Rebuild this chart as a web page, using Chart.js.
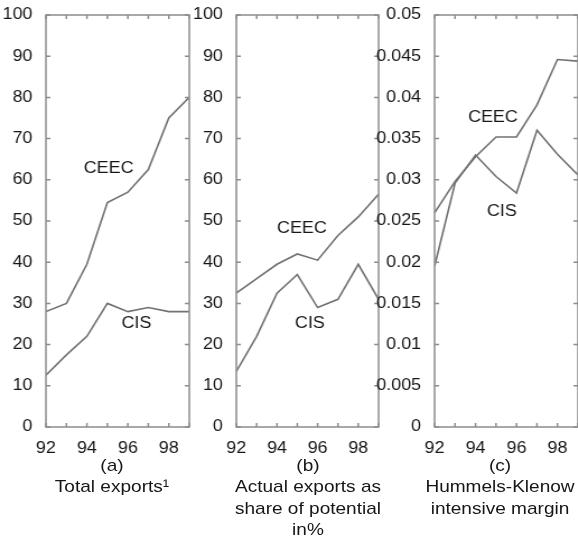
<!DOCTYPE html>
<html>
<head>
<meta charset="utf-8">
<script src="https://cdn.jsdelivr.net/npm/chart.js@4.4.1/dist/chart.umd.min.js"></script>
<style>
  html, body { margin: 0; padding: 0; background: #fff; overflow: hidden; width: 578px; height: 538px; }
  #wrap { position: absolute; left: 0; top: 0; width: 516px; height: 538px; transform: scaleX(1.12); transform-origin: 0 0; }
  #wrap canvas { position: absolute; top: 0; }
  .cap { position: absolute; width: 200px; font-family: "Liberation Sans", Arial, sans-serif; font-size: 17px;
         line-height: 21.3px; color: #161616; text-align: center; white-space: nowrap; }
</style>
</head>
<body>
<div id="wrap"></div>
<script>
// data
const years = [92, 93, 94, 95, 96, 97, 98, 99];
const yearLabels = [92, 94, 96, 98];

const ceecTotal = [28, 30, 39.5, 54.5, 57, 62.5, 75, 80];
const cisTotal = [12.6, 17.5, 22, 30, 28, 29, 28, 28];

const ceecShare = [32.5, 36, 39.5, 42, 40.5, 46.5, 51, 56.5];
const cisShare = [13.5, 22, 32.5, 37, 29, 31, 39.5, 31];

const ceecMargin = [0.026, 0.0298, 0.0328, 0.0352, 0.0352, 0.0391, 0.0446, 0.0444];
const cisMargin = [0.0195, 0.0296, 0.033, 0.0304, 0.0284, 0.036, 0.0331, 0.0306];

const captionA = ["(a)", "Total exports\u00b9"];
const captionB = ["(b)", "Actual exports as", "share of potential", "in%"];
const captionC = ["(c)", "Hummels-Klenow", "intensive margin"];

const S = 1.12;          // horizontal stretch of the whole figure
const FONT = '"Liberation Sans", Arial, sans-serif';
const TXT = "#161616";
const LINE = "#727272";
const AXIS = "#8c8c8c";
const yW = 52;
const padR = 3;
const wrap = document.getElementById("wrap");

const framePlugin = {
  id: "frame",
  afterDraw(chart) {
    const { ctx, chartArea: a, scales } = chart;
    ctx.save();
    ctx.strokeStyle = AXIS;
    ctx.lineWidth = 1.5;
    ctx.strokeRect(a.left, a.top, a.right - a.left, a.bottom - a.top);
    ctx.beginPath();
    scales.y.ticks.forEach((t) => {
      const p = scales.y.getPixelForValue(t.value);
      ctx.moveTo(a.left, p); ctx.lineTo(a.left + 4, p);
      ctx.moveTo(a.right, p); ctx.lineTo(a.right - 4, p);
    });
    scales.x.ticks.forEach((t) => {
      const p = scales.x.getPixelForValue(t.value);
      ctx.moveTo(p, a.bottom); ctx.lineTo(p, a.bottom - 4);
      ctx.moveTo(p, a.top); ctx.lineTo(p, a.top + 4);
    });
    ctx.stroke();
    ctx.restore();
  }
};

function tagPlugin(tags) {
  return {
    id: "tags",
    afterDatasetsDraw(chart) {
      const { ctx, scales } = chart;
      ctx.save();
      ctx.font = "16px " + FONT;
      ctx.fillStyle = TXT;
      ctx.textAlign = "center";
      ctx.textBaseline = "middle";
      tags.forEach((t) => {
        ctx.fillText(t.text, scales.x.getPixelForValue(t.x), scales.y.getPixelForValue(t.y));
      });
      ctx.restore();
    }
  };
}

function makePanel(plotLeft, plotWidth, yMax, yStep, ceec, cis, tags, caption, capX) {
  const pw = Math.round(plotWidth / S);
  const canvas = document.createElement("canvas");
  canvas.width = yW + pw + padR;
  canvas.height = 538;
  canvas.style.left = (plotLeft / S - yW) + "px";
  wrap.appendChild(canvas);

  const series = (vals) => ({
    data: years.map((x, i) => ({ x: x, y: vals[i] })),
    borderColor: LINE,
    borderWidth: 1.6,
    pointRadius: 0,
    tension: 0,
    fill: false
  });

  new Chart(canvas, {
    type: "line",
    data: { datasets: [series(ceec), series(cis)] },
    options: {
      responsive: false,
      animation: false,
      devicePixelRatio: 1,
      layout: { padding: { top: 15, right: padR, left: 0, bottom: 0 } },
      plugins: { legend: { display: false }, tooltip: { enabled: false } },
      scales: {
        x: {
          type: "linear",
          min: years[0],
          max: years[years.length - 1],
          grid: { display: false },
          border: { display: false },
          ticks: {
            stepSize: 1,
            autoSkip: false,
            maxRotation: 0,
            padding: 4,
            color: TXT,
            font: { family: FONT, size: 16 },
            callback: (v) => (yearLabels.includes(v) ? String(v) : "")
          },
          afterFit: (s) => { s.height = 538 - 427; }
        },
        y: {
          min: 0,
          max: yMax,
          grid: { display: false },
          border: { display: false },
          ticks: {
            stepSize: yStep,
            padding: 4,
            color: TXT,
            font: { family: FONT, size: 16 },
            callback: (v) => String(Number(v.toFixed(3)))
          },
          afterFit: (s) => { s.width = yW; }
        }
      }
    },
    plugins: [framePlugin, tagPlugin(tags)]
  });

  const cap = document.createElement("div");
  cap.className = "cap";
  cap.style.left = (capX / S - 100) + "px";
  cap.style.top = "455px";
  cap.innerHTML = caption.join("<br>");
  wrap.appendChild(cap);
}

makePanel(46, 144, 100, 10, ceecTotal, cisTotal,
  [{ text: "CEEC", x: 95.06, y: 62.6 }, { text: "CIS", x: 96.42, y: 25.2 }],
  captionA, 112);

makePanel(236, 143, 100, 10, ceecShare, cisShare,
  [{ text: "CEEC", x: 95.23, y: 48.2 }, { text: "CIS", x: 95.62, y: 25.2 }],
  captionB, 308);

makePanel(435, 145, 0.05, 0.005, ceecMargin, cisMargin,
  [{ text: "CEEC", x: 94.85, y: 0.0376 }, { text: "CIS", x: 95.28, y: 0.0261 }],
  captionC, 500);
</script>
</body>
</html>
